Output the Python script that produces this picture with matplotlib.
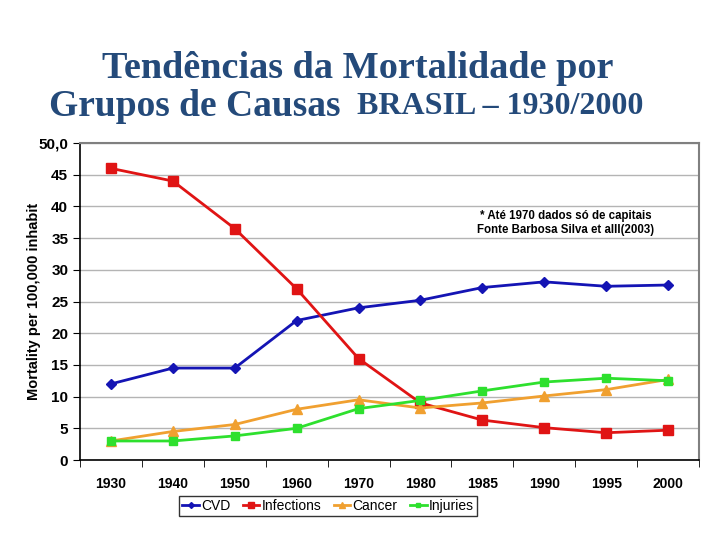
import matplotlib
matplotlib.use("Agg")
import matplotlib.pyplot as plt
import numpy as np

years = ["1930", "1940", "1950", "1960", "1970", "1980", "1985", "1990", "1995", "2000"]
cvd = [12.0, 14.5, 14.5, 22.0, 24.0, 25.2, 27.2, 28.1, 27.4, 27.6]
infections = [46.0, 44.0, 36.5, 27.0, 16.0, 9.0, 6.3, 5.1, 4.3, 4.7]
cancer = [3.0, 4.5, 5.6, 8.0, 9.5, 8.2, 9.0, 10.1, 11.1, 12.7]
injuries = [3.0, 3.0, 3.8, 5.0, 8.1, 9.4, 10.9, 12.3, 12.9, 12.5]
yticks = [0, 5, 10, 15, 20, 25, 30, 35, 40, 45, 50]
ytick_labels = ["0", "5", "10", "15", "20", "25", "30", "35", "40", "45", "50,0"]

fig = plt.figure(figsize=(7.2, 5.4), dpi=100)
W, H = 720, 540
ax = fig.add_axes([80 / W, 1 - 460 / H, (699 - 80) / W, (460 - 143) / H])

x = np.arange(len(years))
ax.plot(x, cvd, color="#1414B4", marker="D", markersize=5, lw=2, label="CVD")
ax.plot(x, infections, color="#E01414", marker="s", markersize=7, lw=2, label="Infections")
ax.plot(x, cancer, color="#F0A030", marker="^", markersize=7, lw=2, label="Cancer")
ax.plot(x, injuries, color="#2EE02E", marker="s", markersize=6, lw=2, label="Injuries")

ax.set_xlim(-0.5, len(years) - 0.5)
ax.set_ylim(0, 50)
ax.set_yticks(yticks)
ax.set_yticklabels(ytick_labels, fontfamily="Liberation Sans", fontweight="bold", fontsize=11)
ax.set_xticks(x)
ax.set_xticklabels(years, fontfamily="Liberation Sans", fontweight="bold", fontsize=10)
ax.tick_params(axis="x", which="major", length=0, pad=12)
ax.set_xticks(np.arange(-0.5, len(years) + 0.5, 1), minor=True)
ax.tick_params(axis="x", which="minor", length=5, color="black")
ax.tick_params(axis="y", length=5, color="black")
ax.grid(axis="y", color="#B4B4B4", lw=1)
ax.set_axisbelow(True)
for s in ["top", "right"]:
    ax.spines[s].set_color("#808080")
    ax.spines[s].set_linewidth(1.5)
for s in ["left", "bottom"]:
    ax.spines[s].set_color("black")
    ax.spines[s].set_linewidth(1.2)

ax.set_ylabel("Mortality per 100,000 inhabit", fontfamily="Liberation Sans",
              fontweight="bold", fontsize=10.5)
ax.yaxis.set_label_coords((41 - 80) / (699 - 80), 0.5)

fig.text(566 / W, 1 - 223 / H, "* Até 1970 dados só de capitais\nFonte Barbosa Silva et alll(2003)",
         ha="center", va="center", fontsize=8.3,
         fontfamily="Liberation Sans", fontweight="bold", linespacing=1.2)

title_color = "#244A7A"
fig.text(358 / W, 1 - 68 / H, "Tendências da Mortalidade por", ha="center", va="center",
         fontfamily="Liberation Serif", fontweight="bold", fontsize=27.5, color=title_color)
fig.text(49 / W, 1 - 106 / H, "Grupos de Causas", ha="left", va="center",
         fontfamily="Liberation Serif", fontweight="bold", fontsize=27, color=title_color)
fig.text(357 / W, 1 - 106 / H, "BRASIL – 1930/2000", ha="left", va="center",
         fontfamily="Liberation Serif", fontweight="bold", fontsize=23, color=title_color)

leg = fig.legend(loc="center", bbox_to_anchor=(328 / W, 1 - 506 / H), ncol=4,
                 frameon=True, fancybox=False, edgecolor="black", handlelength=1.2,
                 handletextpad=0.15, columnspacing=0.9, borderpad=0.25,
                 prop={"family": "Liberation Sans", "size": 10}, markerscale=0.6)
leg.get_frame().set_linewidth(1.0)

fig.savefig("out.png", dpi=100)
